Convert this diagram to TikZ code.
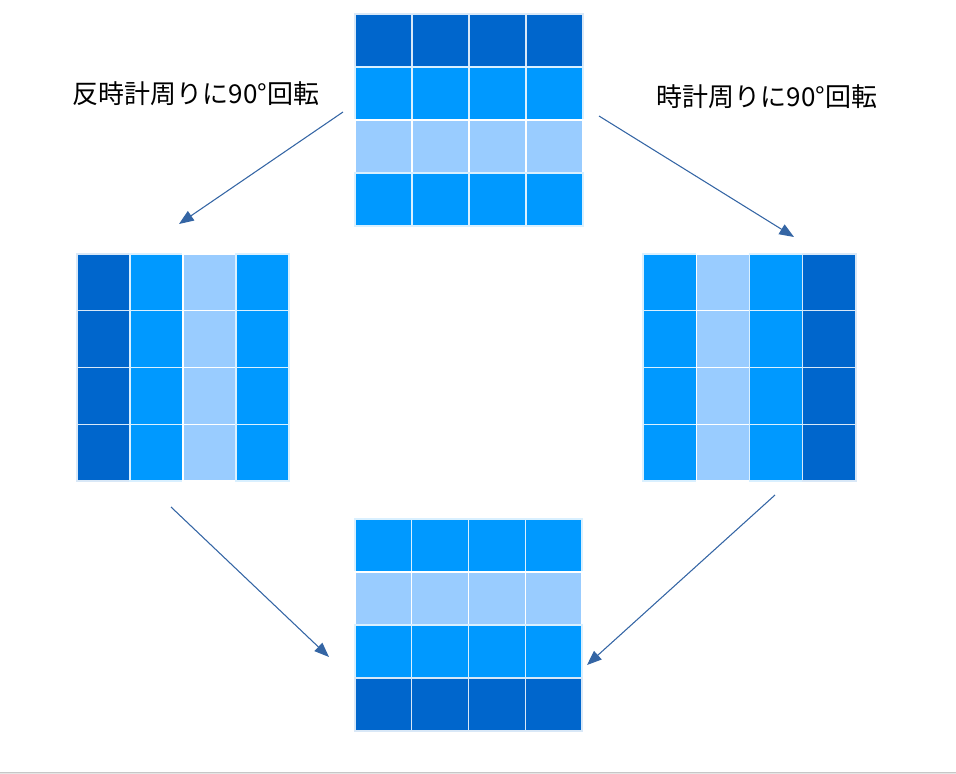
\documentclass[tikz,border=0pt]{standalone}
\usepackage{fontspec}
\newfontfamily\jpfont{Noto Sans CJK JP}
\usetikzlibrary{arrows.meta}

\definecolor{darkblue}{HTML}{0066CC}
\definecolor{midblue}{HTML}{0099FF}
\definecolor{lightblue}{HTML}{99CCFF}
\definecolor{arrowblue}{HTML}{3465A4}

\begin{document}
\begin{tikzpicture}
		% pixel-like units, y pointing down
		[x=0.75pt, y=-0.75pt,
		dark/.style={fill=darkblue, draw=white!85!darkblue, line width=1pt},
		mid/.style={fill=midblue, draw=white!85!midblue, line width=1pt},
		light/.style={fill=lightblue, draw=white, line width=1pt},
		rot/.style={draw=arrowblue, line width=0.8pt, -{Triangle[length=11pt, width=8.5pt]}},
		caption/.style={font=\jpfont\fontsize{19.5pt}{22pt}\selectfont, text=black, inner sep=0pt}]
	
		\useasboundingbox (0,0) rectangle (956,774);
		
		% Original: rows from the top
		\begin{scope}[shift={(355,14)}]
			\foreach \c [count=\i from 0] in {dark,mid,light,mid}
				\foreach \j in {0,...,3}
					\filldraw[\c] (\j*57,\i*53) rectangle +(57,53);
		\end{scope}
		
		% Turned to the left: columns from the left
		\begin{scope}[shift={(77,254)}]
			\foreach \c [count=\j from 0] in {dark,mid,light,mid}
				\foreach \i in {0,...,3}
					\filldraw[\c] (\j*53,\i*56.75) rectangle +(53,56.75);
		\end{scope}
		
		% Turned to the right
		\begin{scope}[shift={(643,254)}]
			\foreach \c [count=\j from 0] in {mid,light,mid,dark}
				\foreach \i in {0,...,3}
					\filldraw[\c] (\j*53.25,\i*56.75) rectangle +(53.25,56.75);
		\end{scope}
		
		% Both ways end here
		\begin{scope}[shift={(355,519)}]
			\foreach \c [count=\i from 0] in {mid,light,mid,dark}
				\foreach \j in {0,...,3}
					\filldraw[\c] (\j*56.75,\i*53) rectangle +(56.75,53);
		\end{scope}
		
		% Captions
		\node[caption] (ccw) at (196,94) {反時計周りに90°回転};
		\node[caption] (cw) at (767,97) {時計周りに90°回転};
		
		% Arrow ends
		\coordinate (ccwA) at (343,112);
		\coordinate (ccwB) at (179,224);
		\coordinate (cwA) at (599,116);
		\coordinate (cwB) at (794,237);
		\coordinate (leftA) at (171,507);
		\coordinate (leftB) at (329,657);
		\coordinate (rightA) at (775,495);
		\coordinate (rightB) at (587,665);
		
		\draw[rot] (ccwA) -- (ccwB);
		\draw[rot] (cwA) -- (cwB);
		\draw[rot] (leftA) -- (leftB);
		\draw[rot] (rightA) -- (rightB);
		
		% Thin rule along the bottom
		\fill[black!22] (0,771.5) rectangle (956,773);
		\fill[black!10] (0,773) rectangle (956,774);
	\end{tikzpicture}
\end{document}
